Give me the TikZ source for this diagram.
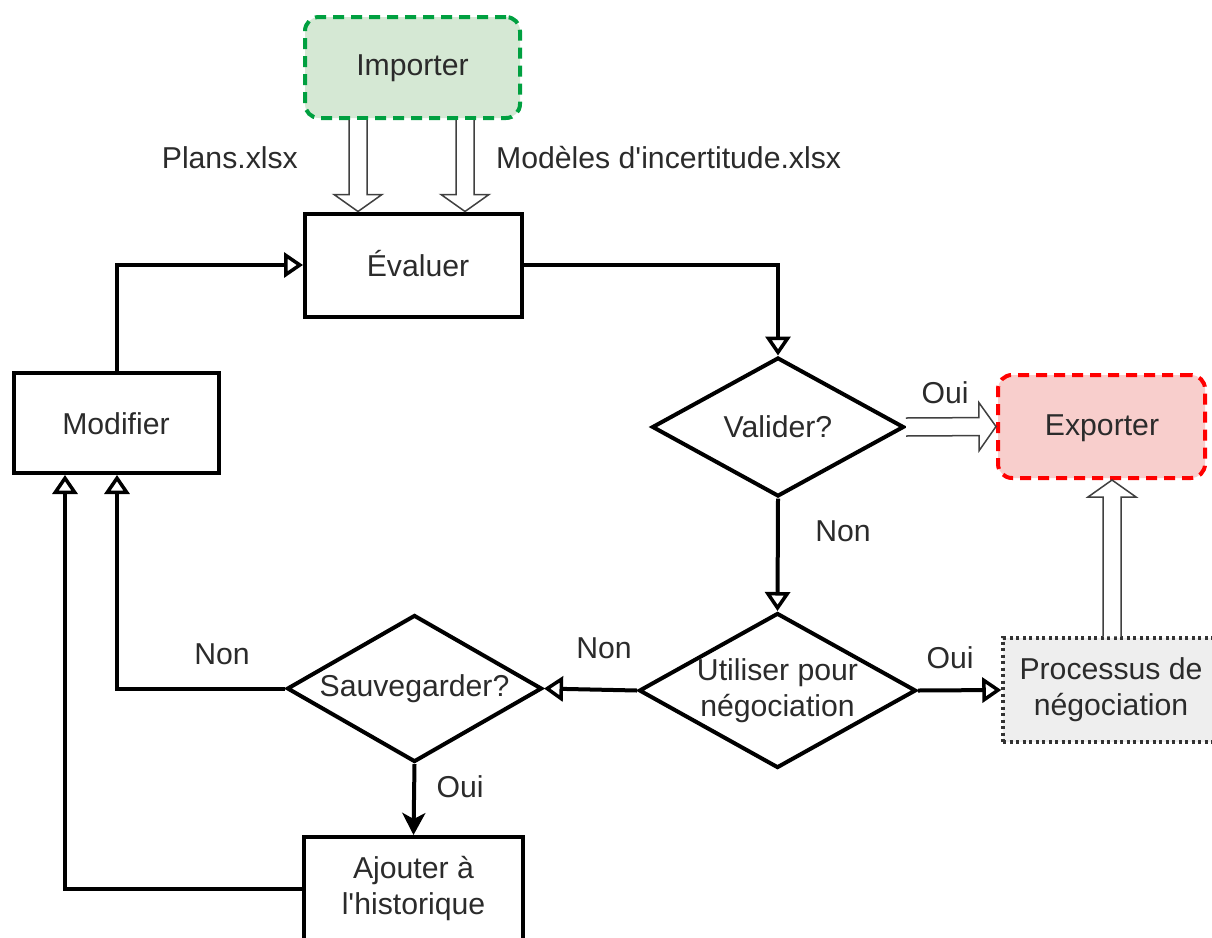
\documentclass[tikz,border=0pt]{standalone}
\usepackage{fontspec}
\setmainfont{Liberation Sans}
\usetikzlibrary{shapes.geometric,arrows.meta,calc}
\definecolor{txtc}{HTML}{2B2B2B}
\definecolor{impfill}{HTML}{D5E8D4}
\definecolor{impdraw}{HTML}{00A040}
\definecolor{expfill}{HTML}{F8CECC}
\definecolor{expdraw}{HTML}{FF0000}
\definecolor{profill}{HTML}{EEEEEE}
\definecolor{prodraw}{HTML}{333333}
\newcommand{\flexarr}[2]{%
  \path (#1) coordinate (fs) (#2) coordinate (ft);
  \coordinate (fb) at ($(ft)!17pt!(fs)$);
  \filldraw[flexst] ($(fs)!9pt!90:(ft)$) -- ($(fb)!9pt!-90:(fs)$) -- ($(fb)!24pt!-90:(fs)$) -- (ft)
     -- ($(fb)!24pt!90:(fs)$) -- ($(fb)!9pt!90:(fs)$) -- ($(fs)!9pt!-90:(ft)$);
}
\begin{document}
\begin{tikzpicture}[x=1pt,y=-1pt,
  font=\fontsize{30.2}{36}\selectfont, text=txtc,
  box/.style={draw=black, line width=4pt, fill=white, inner sep=0pt, align=center},
  dia/.style={diamond, draw=black, line width=4pt, fill=white, inner sep=0pt},
  rbox/.style={rounded corners=14pt, line width=4pt, inner sep=0pt, align=center},
  conn/.style={line width=4pt, -{Triangle[open, length=19pt, width=25pt, line width=3.5pt]}},
  fconn/.style={line width=4pt, -{Stealth[length=22pt, width=23pt, inset=6pt]}},
  flexst/.style={draw=black!75, line width=1.5pt, fill=white, line join=miter},
  lbl/.style={inner sep=0pt}
]
\useasboundingbox (0,0) rectangle (1212,937);
\fill[white] (0,0) rectangle (1212,937);

% nodes
\node[rbox, fill=impfill, draw=impdraw, dash pattern=on 11pt off 7pt, minimum width=215pt, minimum height=101pt] (imp) at (412.5,67.5) {};
\node[lbl] (impt) at (412.5,68) {Importer};
\node[box, minimum width=217pt, minimum height=103pt] (eva) at (413.5,265) {};
\node[lbl] (evat) at (418,264) {Évaluer};
\node[dia, minimum width=252pt, minimum height=139pt, label={[lbl]center:Valider?}] (val) at (778,427) {};
\node[rbox, fill=expfill, draw=expdraw, dash pattern=on 11pt off 7pt, minimum width=207pt, minimum height=103pt] (exp) at (1101.5,426.5) {};
\node[lbl] (expt) at (1102,428) {Exporter};
\node[box, minimum width=205pt, minimum height=100pt] (mod) at (116,423) {};
\node[lbl] (modt) at (116,424) {Modifier};
\node[dia, minimum width=277pt, minimum height=155pt, label={[lbl,align=center]center:Utiliser pour\\négociation}] (uti) at (777.5,690.5) {};
\node[box, fill=profill, draw=prodraw, line width=3.5pt, dash pattern=on 3pt off 3.5pt, minimum width=216pt, minimum height=104pt] (pro) at (1111,690) {Processus de\\négociation};
\node[dia, minimum width=255pt, minimum height=147pt, label={[lbl]center:Sauvegarder?}] (sav) at (414.5,688.5) {};
\node[box, minimum width=219pt, minimum height=104pt] (ajo) at (413.5,889) {Ajouter à\\l\textquotesingle historique};

% hollow (flex) arrows
\flexarr{$(imp.south)+(-54.5,0)$}{$(eva.north)+(-55.5,0)$}
\flexarr{$(imp.south)+(52.5,0)$}{$(eva.north)+(51.5,0)$}
\flexarr{val.east}{exp.west}
\flexarr{$(pro.north)+(1,0)$}{$(exp.south)+(10.5,0)$}

% connectors
\draw[conn] (eva.east) -| (val.north);
\draw[conn] (val.south) -- (uti.north);
\draw[conn] (uti.west) -- (sav.east);
\draw[conn] (uti.east) -- (pro.west);
\draw[fconn] (sav.south) -- (ajo.north);
\draw[conn] (sav.west) -| ($(mod.south)+(1,0)$);
\draw[conn] (ajo.west) -| ($(mod.south)+(-51,0)$);
\draw[conn] ($(mod.north)+(1,0)$) |- (eva.west);

% labels
\node[lbl, anchor=east] (lplans) at (298,158) {Plans.xlsx};
\node[lbl, anchor=west] (lmod) at (496,158) {Modèles d\textquotesingle incertitude.xlsx};
\node[lbl] (l1) at (945,393) {Oui};
\node[lbl] (l2) at (843,531) {Non};
\node[lbl] (l3) at (604,648) {Non};
\node[lbl] (l4) at (950,658) {Oui};
\node[lbl] (l5) at (222,654) {Non};
\node[lbl] (l6) at (460,787) {Oui};
\end{tikzpicture}
\end{document}
